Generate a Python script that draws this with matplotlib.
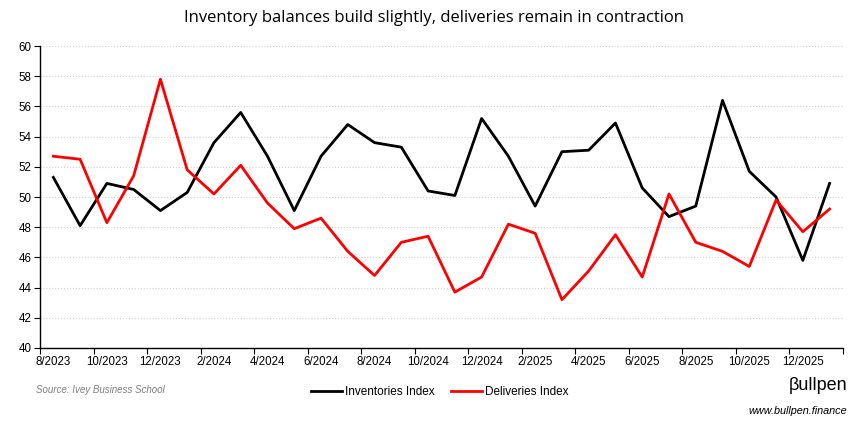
import numpy as np
import matplotlib
matplotlib.use("Agg")
import matplotlib.pyplot as plt

# monthly readings, 8/2023 .. 1/2026
months = ["8/2023", "9/2023", "10/2023", "11/2023", "12/2023", "1/2024",
          "2/2024", "3/2024", "4/2024", "5/2024", "6/2024", "7/2024",
          "8/2024", "9/2024", "10/2024", "11/2024", "12/2024", "1/2025",
          "2/2025", "3/2025", "4/2025", "5/2025", "6/2025", "7/2025",
          "8/2025", "9/2025", "10/2025", "11/2025", "12/2025", "1/2026"]
inventories = [51.3, 48.1, 50.9, 50.5, 49.1, 50.3, 53.6, 55.6, 52.7, 49.1,
               52.7, 54.8, 53.6, 53.3, 50.4, 50.1, 55.2, 52.7, 49.4, 53.0,
               53.1, 54.9, 50.6, 48.7, 49.4, 56.4, 51.7, 50.0, 45.8, 50.9]
deliveries = [52.7, 52.5, 48.3, 51.4, 57.8, 51.8, 50.2, 52.1, 49.6, 47.9,
              48.6, 46.4, 44.8, 47.0, 47.4, 43.7, 44.7, 48.2, 47.6, 43.2,
              45.1, 47.5, 44.7, 50.2, 47.0, 46.4, 45.4, 49.8, 47.7, 49.2]

plt.rcParams['font.family'] = ['Liberation Sans', 'DejaVu Sans']

fig = plt.figure(figsize=(8.67, 4.3), dpi=100)
ax = fig.add_axes([0.0461, 0.1907, 0.9262, 0.7023])

x = np.arange(len(months))
ax.plot(x, inventories, color="black", lw=2.0, label="Inventories Index")
ax.plot(x, deliveries, color="#ff0000", lw=2.0, label="Deliveries Index")

ax.set_xlim(-0.5, len(months) - 0.5)
ax.set_ylim(40, 60)
ax.set_yticks(np.arange(40, 61, 2))
ax.tick_params(axis="y", length=4, labelsize=8.3, pad=2)

# tick marks between categories, labels on every other month
ax.set_xticks(np.arange(-0.5, len(months), 2))
ax.set_xticklabels([])
ax.set_xticks(x[::2], minor=True)
ax.set_xticklabels(months[::2], minor=True)
ax.tick_params(axis="x", which="major", length=4, direction="out")
ax.tick_params(axis="x", which="minor", length=0, labelsize=8.3, pad=6)

ax.grid(axis="y", color="#d0d0d0", ls=":", lw=0.8)
ax.set_axisbelow(True)
for s in ["top", "right"]:
    ax.spines[s].set_visible(False)
ax.spines["left"].set_linewidth(1.0)
ax.spines["bottom"].set_linewidth(1.0)

fig.text(0.5, 0.958, "Inventory balances build slightly, deliveries remain in contraction",
         ha="center", va="center", fontsize=12, family=["Open Sans", "DejaVu Sans"])

fig.legend(loc="center", bbox_to_anchor=(0.507, 0.088), ncol=2, frameon=False,
           fontsize=8.5, handlelength=2.6, handletextpad=0.25, columnspacing=1.4)

fig.text(0.041, 0.093, "Source: Ivey Business School", fontsize=7,
         style="italic", color="#7f7f7f", va="center")
fig.text(0.977, 0.103, "\u03b2ullpen", fontsize=13, ha="right", va="center")
fig.text(0.977, 0.045, "www.bullpen.finance", fontsize=7.8, style="italic",
         ha="right", va="center")

fig.savefig("out.png", dpi=100)
